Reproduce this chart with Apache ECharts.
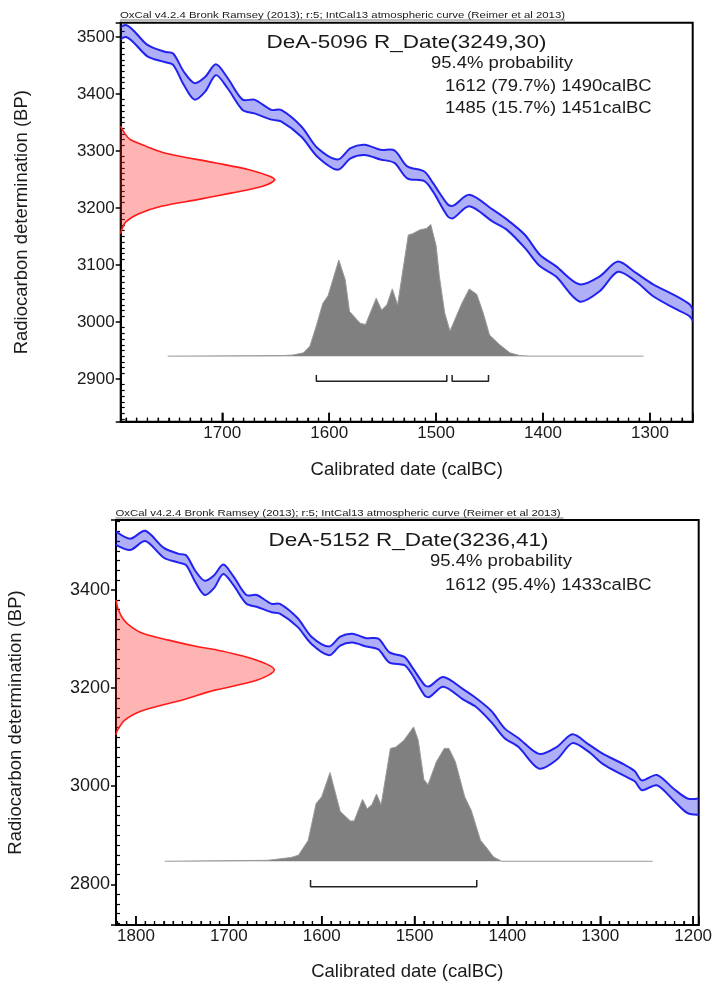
<!DOCTYPE html>
<html><head><meta charset="utf-8">
<script src="https://cdn.jsdelivr.net/npm/echarts@6/dist/echarts.min.js"></script>
<style>html,body{margin:0;padding:0;background:#fff}#c{width:715px;height:986px}</style>
</head><body><div id="c"></div>
<script>
// ---- IntCal13 calibration curve band (calBC year, upper BP, lower BP) ----
const curveYears = [1822,1806,1790,1770,1754,1746,1736,1726,1716,1706,1695,1681,1670,1654,1645,1626,1611,1592,1580,1567,1552,1539,1527,1511,1503,1489,1484,1469,1447,1434,1417,1403,1388,1366,1347,1330,1313,1297,1275,1263,1255,1239,1221,1206,1194];
const curveUpper = [3520,3505,3521,3486,3474,3471,3439,3419,3430,3452,3428,3390,3390,3372,3372,3343,3305,3285,3305,3311,3302,3301,3273,3264,3244,3206,3204,3223,3197,3180,3153,3118,3098,3066,3080,3106,3086,3066,3045,3031,3012,3023,2995,2975,2975];
const curveLower = [3493,3482,3500,3466,3456,3451,3416,3390,3404,3433,3410,3372,3366,3355,3352,3325,3290,3267,3287,3293,3285,3279,3252,3247,3229,3185,3182,3203,3176,3162,3130,3098,3080,3036,3054,3088,3071,3045,3022,3010,2992,3002,2971,2945,2942];

const noteText = 'OxCal v4.2.4 Bronk Ramsey (2013); r:5; IntCal13 atmospheric curve (Reimer et al 2013)';
const yAxisTitle = 'Radiocarbon determination (BP)';
const xAxisTitle = 'Calibrated date (calBC)';

// ---- Panel A: DeA-5096 ----
const aTitle = 'DeA-5096 R_Date(3249,30)';
const aLines = ['95.4% probability', '1612 (79.7%) 1490calBC', '1485 (15.7%) 1451calBC'];
const aXTicks = [1700,1600,1500,1400,1300];
const aRedBP   = [3343,3330,3320,3308,3296,3279,3267,3255,3249,3238,3226,3215,3203,3190,3176,3162,3155];
const aRedYear = [1795,1791,1786,1771,1753,1706,1675,1655,1651,1662,1692,1722,1757,1778,1790,1794,1795];
const aPostYears = [1751,1645,1634,1624,1618,1612,1606,1601,1591,1585,1581,1571,1566,1556,1551,1546,1541,1536,1526,1522,1515,1509,1505,1500,1497,1492,1487,1476,1469,1462,1456,1450,1441,1431,1422,1412,1306];
const aPostProb  = [0,0.004,0.008,0.025,0.076,0.23,0.40,0.46,0.73,0.58,0.34,0.25,0.24,0.44,0.35,0.39,0.51,0.39,0.92,0.93,0.96,0.97,1.0,0.84,0.61,0.33,0.19,0.40,0.51,0.47,0.33,0.16,0.09,0.025,0.005,0,0];
const aRanges = [[1612,1490],[1485,1451]];

// ---- Panel B: DeA-5152 ----
const bTitle = 'DeA-5152 R_Date(3236,41)';
const bLines = ['95.4% probability', '1612 (95.4%) 1433calBC'];
const bXTicks = [1800,1700,1600,1500,1400,1300,1200];
const bRedBP   = [3380,3360,3339,3325,3312,3298,3284,3278,3257,3237,3216,3196,3176,3155,3135,3114,3105];
const bRedYear = [1821.5,1819,1813,1805,1793,1765,1732,1713,1670,1651,1670,1715,1750,1792,1812,1820,1821.5];
const bPostYears = [1769,1658,1633,1625,1614.5,1606,1600,1591,1580,1569,1565,1556,1551,1546,1541,1536,1526,1520,1511.5,1501,1496,1490,1485.5,1476.5,1468,1463,1456,1446,1439,1429,1423,1415,1406,1243.5];
const bPostProb  = [0,0.007,0.028,0.045,0.156,0.43,0.48,0.66,0.37,0.30,0.30,0.46,0.39,0.42,0.50,0.42,0.84,0.85,0.90,1.0,0.90,0.61,0.57,0.74,0.84,0.84,0.74,0.48,0.38,0.156,0.106,0.032,0,0];
const bRanges = [[1612,1433]];

const FONT = "'Liberation Sans', Arial, sans-serif";
const TXT = '#1a1a1a';

// calBC years are placed on the axis as negative (astronomical-style) years so time runs left to right
const X = yr => -yr;

const panels = [
  {grid:{left:120.7, top:22.7, width:572, height:399}, x:[1795,1260], y:[2825,3525], ySplit:5, xTicks:aXTicks,
   red:[aRedBP,aRedYear], post:[aPostYears,aPostProb], postBase:2940, postAmp:231,
   ranges:aRanges, rangeY:2896, rangeTick:11, yNameGap:89, xNameGap:39, ylabelSize:17},
  {grid:{left:116, top:520, width:582.7, height:405}, x:[1821.5,1194], y:[2717,3543], ySplit:5, xTicks:bXTicks,
   red:[bRedBP,bRedYear], post:[bPostYears,bPostProb], postBase:2847, postAmp:274,
   ranges:bRanges, rangeY:2795, rangeTick:14, yNameGap:91, xNameGap:37, ylabelSize:18}
];

const plain = v => String(v);
const grids = [], xAxes = [], yAxes = [], series = [];
panels.forEach((p, i) => {
  grids.push(Object.assign({show:true, borderColor:'#000', borderWidth:2, backgroundColor:'transparent',
    containLabel:false, outerBoundsMode:'none'}, p.grid));
  xAxes.push({
    gridIndex:i, type:'value', min:X(p.x[0]), max:X(p.x[1]), splitNumber:5,
    axisLine:{show:true, onZero:false, lineStyle:{color:'#000', width:2}},
    axisTick:{show:true, inside:true, length:9, lineStyle:{color:'#000', width:1.5}},
    minorTick:{show:true, splitNumber:10, length:4, lineStyle:{color:'#000', width:1.2}},
    splitLine:{show:false}, minorSplitLine:{show:false},
    axisLabel:{showMinLabel:false, showMaxLabel:false, fontSize:17, color:TXT, fontFamily:FONT, margin:3,
               formatter:v => String(-v)},
    name:xAxisTitle, nameLocation:'middle', nameGap:p.xNameGap,
    nameTextStyle:{fontSize:18.5, color:TXT, fontFamily:FONT}
  });
  yAxes.push({
    gridIndex:i, type:'value', min:p.y[0], max:p.y[1], splitNumber:p.ySplit,
    axisLine:{show:true, onZero:false, lineStyle:{color:'#000', width:2}},
    axisTick:{show:true, inside:false, length:5, lineStyle:{color:'#000', width:1.5}},
    minorTick:{show:true, splitNumber:10, length:-4, lineStyle:{color:'#000', width:1.2}},
    splitLine:{show:false}, minorSplitLine:{show:false},
    axisLabel:{showMinLabel:false, showMaxLabel:false, fontSize:p.ylabelSize, color:TXT, fontFamily:FONT, margin:6, formatter:plain},
    name:yAxisTitle, nameLocation:'middle', nameGap:p.yNameGap, nameRotate:90,
    nameTextStyle:{fontSize:18.5, color:TXT, fontFamily:FONT}
  });
  // calibration curve band (custom polygon through the axes' scales)
  series.push({
    type:'custom', xAxisIndex:i, yAxisIndex:i, coordinateSystem:'cartesian2d', silent:true,
    data:[[X(curveYears[0]), curveUpper[0]]], z:4,
    renderItem:(params, api) => {
      const up = curveYears.map((yr,k)=>api.coord([X(yr), curveUpper[k]]));
      const lo = curveYears.map((yr,k)=>api.coord([X(yr), curveLower[k]]));
      const cs = params.coordSys;
      return {type:'group',
        clipPath:{type:'rect', shape:{x:cs.x, y:cs.y, width:cs.width, height:cs.height}},
        children:[
          {type:'polygon', shape:{points:up.concat(lo.slice().reverse()), smooth:0.3}, style:{fill:'rgba(20,20,235,0.34)', stroke:null}},
          {type:'polyline', shape:{points:up, smooth:0.3}, style:{stroke:'#2222ee', lineWidth:2, fill:null}},
          {type:'polyline', shape:{points:lo, smooth:0.3}, style:{stroke:'#2222ee', lineWidth:2, fill:null}}
        ]};
    }
  });
  // radiocarbon date distribution (red, on the BP axis)
  const rb = p.red[0], ry = p.red[1];
  series.push({
    type:'custom', xAxisIndex:i, yAxisIndex:i, coordinateSystem:'cartesian2d', silent:true,
    data:[[X(ry[0]), rb[0]]], z:3,
    renderItem:(params, api) => {
      const pts = rb.map((b,k)=>api.coord([X(ry[k]), b]));
      return {type:'group', children:[
        {type:'polygon', shape:{points:pts, smooth:0.3}, style:{fill:'rgba(255,40,40,0.35)', stroke:null}},
        {type:'polyline', shape:{points:pts, smooth:0.3}, style:{stroke:'#ff1a1a', lineWidth:1.6, fill:null}}
      ]};
    }
  });
  // calibrated (posterior) distribution
  series.push({
    type:'line', xAxisIndex:i, yAxisIndex:i, silent:true,
    data:p.post[0].map((yr,k)=>[X(yr), p.postBase + p.post[1][k]*p.postAmp]),
    symbol:'none', lineStyle:{color:'#999', width:1},
    areaStyle:{color:'#808080', opacity:1, origin:p.postBase}, z:2
  });
  // 95.4% range brackets
  p.ranges.forEach(r => {
    series.push({
      type:'line', xAxisIndex:i, yAxisIndex:i, silent:true, symbol:'none',
      data:[[X(r[0]), p.rangeY + p.rangeTick],[X(r[0]), p.rangeY],[X(r[1]), p.rangeY],[X(r[1]), p.rangeY + p.rangeTick]],
      lineStyle:{color:'#222', width:1.5}, z:5
    });
  });
  // x-axis tick marks (major every 100 yr from the tick list, minor every 10 yr), placed via the x scale
  const minorVals = [];
  for (let t = Math.ceil(p.x[1] / 10) * 10; t <= p.x[0]; t += 10) if (t % 100 !== 0) minorVals.push(t);
  series.push({
    type:'custom', xAxisIndex:i, yAxisIndex:i, coordinateSystem:'cartesian2d', silent:true,
    data:[[X(p.xTicks[1]), (p.y[0] + p.y[1]) / 2]], z:6,
    renderItem:(params, api) => {
      const kids = [];
      p.xTicks.forEach(t => { const c = api.coord([X(t), p.y[0]]);
        kids.push({type:'line', shape:{x1:c[0], y1:c[1], x2:c[0], y2:c[1]-9}, style:{stroke:'#000', lineWidth:1.5}}); });
      minorVals.forEach(t => { const c = api.coord([X(t), p.y[0]]);
        kids.push({type:'line', shape:{x1:c[0], y1:c[1], x2:c[0], y2:c[1]-4}, style:{stroke:'#000', lineWidth:1.2}}); });
      return {type:'group', children:kids};
    }
  });
});

function txt(x, y, text, size, align, sy){
  return {type:'text', x:x, y:y, scaleY:sy, silent:true,
    style:{text:text, fontSize:size, fontFamily:FONT, fill:TXT, textAlign:align, textVerticalAlign:'middle'}};
}
const graphic = [
  txt(120, 15.5, noteText, 11.4, 'left', 0.75),
  {type:'line', silent:true, shape:{x1:120, y1:20, x2:565, y2:20}, style:{stroke:'#444', lineWidth:0.7}},
  txt(406.5, 43, aTitle, 22.5, 'center', 0.85),
  txt(431, 64, aLines[0], 18.5, 'left', 0.85),
  txt(445, 87, aLines[1], 18.5, 'left', 0.85),
  txt(445, 109, aLines[2], 18.5, 'left', 0.85),
  txt(115.5, 513.5, noteText, 11.4, 'left', 0.75),
  {type:'line', silent:true, shape:{x1:115.5, y1:518, x2:563.5, y2:518}, style:{stroke:'#444', lineWidth:0.7}},
  txt(408.5, 541, bTitle, 22.5, 'center', 0.85),
  txt(430, 562, bLines[0], 18.5, 'left', 0.85),
  txt(445, 586, bLines[1], 18.5, 'left', 0.85)
];

const chart = echarts.init(document.getElementById('c'));
chart.setOption({
  animation:false, backgroundColor:'#fff',
  grid:grids, xAxis:xAxes, yAxis:yAxes, series:series, graphic:graphic
});
</script></body></html>
